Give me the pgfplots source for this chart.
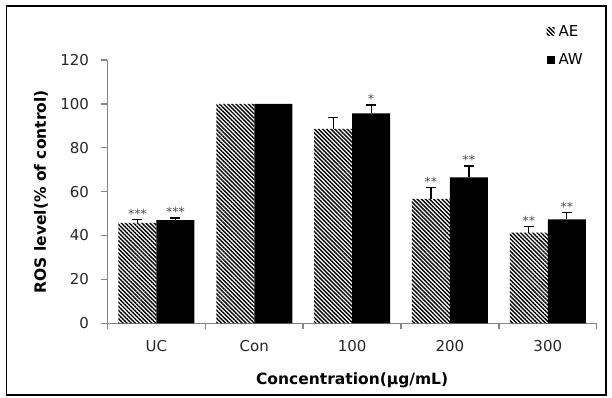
\documentclass[border=0pt]{standalone}
\usepackage{fontspec}
\setmainfont{DejaVu Sans}
\usepackage{pgfplots}
\pgfplotsset{compat=1.18}
\usepackage{pgfplotstable}
\usetikzlibrary{patterns.meta}
\definecolor{axisgray}{HTML}{868686}

\pgfplotstableread{
x y err lab
0 45.8 1.6 ***
1 100 0 {}
2 88.6 5.3 {}
3 56.7 5.3 **
4 41.3 2.7 **
}\tabAE
\pgfplotstableread{
x y err lab
0 47.0 1.0 ***
1 100 0 {}
2 95.7 3.8 *
3 66.5 5.2 **
4 47.4 3.0 **
}\tabAW

\begin{document}
\begin{tikzpicture}
\path[use as bounding box] (-107.5pt,-73.7pt) rectangle (504.5pt,323.3pt);
\begin{axis}[
  scale only axis, width=489.2pt, height=263.3pt,
  ybar=0pt, bar width=38pt,
  xmin=-0.5, xmax=4.5, ymin=0, ymax=120,
  axis x line*=bottom, axis y line*=left,
  axis line style={draw=axisgray, line width=1.6pt},
  xtick={0,...,4}, xticklabels={UC,Con,100,200,300},
  minor xtick={-0.5,0.5,...,4.5},
  major x tick style={draw=none},
  minor x tick style={draw=axisgray, line width=1.4pt},
  ytick={0,20,...,120},
  ytick style={draw=axisgray, line width=1.4pt},
  tick align=outside, major tick length=6pt, minor tick length=6pt,
  tick label style={font=\fontsize{15}{18}\selectfont, text=black!85},
  /pgf/number format/assume math mode=true,
  yticklabel style={xshift=-9pt},
  xticklabel style={yshift=-8pt},
  xlabel={Concentration(µg/mL)}, ylabel={ROS level(\% of control)},
  every axis x label/.style={at={(axis description cs:0.5,-0.215)}, anchor=center,
    font=\fontsize{15.5}{18}\selectfont\bfseries},
  every axis y label/.style={at={(axis description cs:-0.136,0.5)}, anchor=center, rotate=90,
    font=\fontsize{15.5}{18}\selectfont\bfseries},
  legend style={at={(axis description cs:0.897,1.14)}, anchor=north west, draw=none, fill=none,
    font=\fontsize{15}{18}\selectfont, row sep=12pt, inner sep=0pt, nodes={inner sep=2pt}},
  legend cell align=left,
  legend image code/.code={\fill[#1] (0pt,-4pt) rectangle (8pt,4pt);},
  clip=false,
]
\addplot[ybar, bar shift=-19pt, draw=none, pattern={Lines[angle=-45,distance=2.9pt,line width=1.4pt]}, pattern color=black]
  table[x=x,y=y]{\tabAE};
\addlegendentry{\hspace{2pt}AE}
\addplot[ybar, bar shift=19pt, draw=none, fill=black]
  table[x=x,y=y]{\tabAW};
\addlegendentry{\hspace{2pt}AW}

\addplot[ybar, bar shift=-19pt, draw=none, fill=none, forget plot,
  skip coords between index={1}{2},
  point meta=explicit symbolic, nodes near coords,
  visualization depends on={\thisrow{err} \as \myerr},
  every node near coord/.append style={font=\fontsize{12.5}{13}\selectfont, text=black!70, yshift=\myerr*2.1942pt, inner sep=1pt, anchor=south},
  error bars/.cd, y dir=plus, y explicit,
  error bar style={draw=black, line width=1.2pt},
  error mark=|, error mark options={draw=black, line width=1.2pt, mark size=5pt}]
  table[x=x,y=y,y error=err,meta=lab]{\tabAE};
\addplot[ybar, bar shift=19pt, draw=none, fill=none, forget plot,
  skip coords between index={1}{2},
  point meta=explicit symbolic, nodes near coords,
  visualization depends on={\thisrow{err} \as \myerr},
  every node near coord/.append style={font=\fontsize{12.5}{13}\selectfont, text=black!70, yshift=\myerr*2.1942pt, inner sep=1pt, anchor=south},
  error bars/.cd, y dir=plus, y explicit,
  error bar style={draw=black, line width=1.2pt},
  error mark=|, error mark options={draw=black, line width=1.2pt, mark size=5pt}]
  table[x=x,y=y,y error=err,meta=lab]{\tabAW};
\end{axis}
\draw[line width=1.8pt] (-101pt,-71.7pt) rectangle (498.5pt,317.3pt);
\end{tikzpicture}
\end{document}
